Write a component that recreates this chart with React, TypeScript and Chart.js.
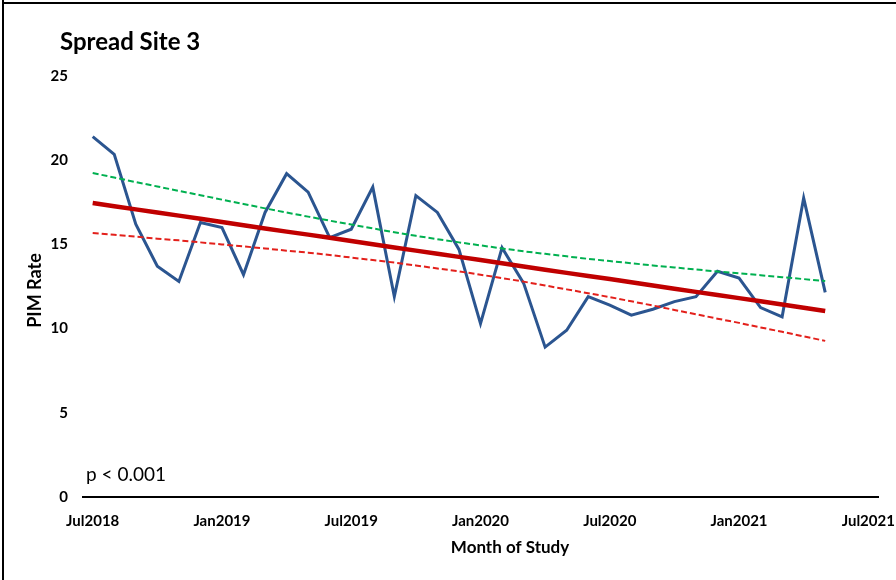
import React, { useEffect, useRef } from "react";
import { Chart, registerables } from "chart.js";

Chart.register(...registerables);

// Monthly PIM rate, Jul 2018 .. May 2021 (index = months since Jul 2018)
const PIM_RATE = [
  21.4, 20.35, 16.2, 13.7, 12.8, 16.3, 16.0, 13.2, 16.9, 19.2, 18.1, 15.4,
  15.9, 18.4, 11.9, 17.9, 16.9, 14.7, 10.3, 14.8, 12.7, 8.9, 9.9, 11.9,
  11.4, 10.8, 11.15, 11.6, 11.9, 13.4, 13.0, 11.25, 10.7, 17.75, 12.15,
];

// Fitted linear trend
const TREND = [
  17.46, 17.27, 17.08, 16.89, 16.71, 16.52, 16.33, 16.14, 15.95, 15.76, 15.58,
  15.39, 15.2, 15.01, 14.82, 14.63, 14.44, 14.26, 14.07, 13.88, 13.69, 13.5,
  13.31, 13.12, 12.94, 12.75, 12.56, 12.37, 12.18, 11.99, 11.81, 11.62, 11.43,
  11.24, 11.05,
];

// Upper confidence limit
const UPPER_CL = [
  19.24, 18.97, 18.7, 18.44, 18.18, 17.92, 17.66, 17.4, 17.14, 16.89, 16.65,
  16.41, 16.18, 15.95, 15.72, 15.51, 15.31, 15.12, 14.94, 14.76, 14.59, 14.44,
  14.29, 14.14, 14.01, 13.88, 13.75, 13.63, 13.51, 13.39, 13.28, 13.17, 13.05,
  12.94, 12.83,
];

// Lower confidence limit
const LOWER_CL = [
  15.68, 15.57, 15.46, 15.34, 15.24, 15.12, 15.0, 14.88, 14.76, 14.63, 14.51,
  14.37, 14.22, 14.07, 13.92, 13.75, 13.57, 13.4, 13.2, 13.0, 12.79, 12.56,
  12.33, 12.1, 11.87, 11.62, 11.37, 11.11, 10.85, 10.59, 10.34, 10.07, 9.81,
  9.54, 9.27,
];

// Axis tick labels, every 6 months from Jul 2018
const X_TICK_LABELS = [
  "Jul2018",
  "Jan2019",
  "Jul2019",
  "Jan2020",
  "Jul2020",
  "Jan2021",
  "Jul2021",
];
const X_TICK_STEP = 6;
const Y_TICKS = [0, 5, 10, 15, 20, 25];

const TITLE = "Spread Site 3";
const Y_TITLE = "PIM Rate";
const X_TITLE = "Month of Study";
const P_VALUE = "p < 0.001";

const FONT = "Lato, 'Open Sans', 'DejaVu Sans', sans-serif";

const toPoints = (values: number[]) => values.map((y, x) => ({ x, y }));

const annotations = {
  id: "annotations",
  beforeDraw(chart: any) {
    const ctx = chart.ctx as CanvasRenderingContext2D;
    ctx.save();
    ctx.fillStyle = "#ffffff";
    ctx.fillRect(0, 0, chart.width, chart.height);
    ctx.fillStyle = "#000000";
    // frame edges
    ctx.fillRect(2, 2, chart.width - 2, 2);
    ctx.fillRect(2, 0, 2, chart.height);
    ctx.restore();
  },
  afterDraw(chart: any) {
    const ctx = chart.ctx as CanvasRenderingContext2D;
    const area = chart.chartArea;
    ctx.save();
    ctx.fillStyle = "#000000";

    ctx.font = `bold 24px ${FONT}`;
    ctx.textAlign = "left";
    ctx.textBaseline = "alphabetic";
    ctx.fillText(TITLE, 60, 50);

    ctx.font = `19px ${FONT}`;
    ctx.fillText(P_VALUE, 86, 481);

    ctx.font = `bold 17px ${FONT}`;
    ctx.textAlign = "center";
    ctx.textBaseline = "middle";
    ctx.fillText(X_TITLE, 510, 548);

    ctx.translate(35, (area.top + area.bottom) / 2 + 4);
    ctx.rotate(-Math.PI / 2);
    ctx.font = `bold 18px ${FONT}`;
    ctx.fillText(Y_TITLE, 0, 0);
    ctx.restore();
  },
};

export default function App() {
  const canvasRef = useRef<HTMLCanvasElement | null>(null);

  useEffect(() => {
    const canvas = canvasRef.current;
    if (!canvas) return;
    const chart = new Chart(canvas, {
      type: "line",
      data: {
        datasets: [
          {
            label: "Lower CL",
            data: toPoints(LOWER_CL),
            borderColor: "#e3201b",
            borderWidth: 2,
            borderDash: [6, 3],
            pointRadius: 0,
            tension: 0,
            order: 1,
          },
          {
            label: "Upper CL",
            data: toPoints(UPPER_CL),
            borderColor: "#00b050",
            borderWidth: 2,
            borderDash: [6, 3],
            pointRadius: 0,
            tension: 0,
            order: 2,
          },
          {
            label: "Trend",
            data: toPoints(TREND),
            borderColor: "#c00000",
            borderWidth: 4.5,
            pointRadius: 0,
            tension: 0,
            order: 3,
          },
          {
            label: "PIM Rate",
            data: toPoints(PIM_RATE),
            borderColor: "#2b5590",
            borderWidth: 3,
            pointRadius: 0,
            tension: 0,
            order: 4,
          },
        ],
      },
      options: {
        responsive: false,
        animation: false,
        events: [],
        layout: { padding: { left: 0, top: 76, right: 18, bottom: 23 } },
        plugins: {
          legend: { display: false },
          title: { display: false },
          tooltip: { enabled: false },
        },
        scales: {
          x: {
            type: "linear",
            min: -0.45,
            max: (X_TICK_LABELS.length - 1) * X_TICK_STEP + 0.45,
            afterBuildTicks: (scale: any) => {
              scale.ticks = X_TICK_LABELS.map((_, i) => ({ value: i * X_TICK_STEP }));
            },
            afterFit: (scale: any) => {
              scale.height = 60;
              scale.paddingLeft = 0;
              scale.paddingRight = 0;
            },
            grid: { display: false, drawTicks: false },
            border: { display: true, color: "#000000", width: 2 },
            ticks: {
              padding: 15,
              color: "#000000",
              font: { family: FONT, size: 15, weight: "bold" },
              maxRotation: 0,
              autoSkip: false,
              callback: (value: any) => X_TICK_LABELS[Math.round(Number(value) / X_TICK_STEP)] ?? "",
            },
          },
          y: {
            type: "linear",
            min: Y_TICKS[0],
            max: Y_TICKS[Y_TICKS.length - 1],
            afterBuildTicks: (scale: any) => {
              scale.ticks = Y_TICKS.map((value) => ({ value }));
            },
            afterFit: (scale: any) => {
              scale.width = 83;
              scale.paddingTop = 0;
              scale.paddingBottom = 0;
            },
            grid: { display: false, drawTicks: false },
            border: { display: false },
            ticks: {
              padding: 15,
              color: "#000000",
              font: { family: FONT, size: 15, weight: "bold" },
            },
          },
        },
      },
      plugins: [annotations],
    });
    return () => chart.destroy();
  }, []);

  return (
    <div
      style={{
        position: "fixed",
        left: 0,
        top: 0,
        width: 896,
        height: 580,
        background: "#ffffff",
      }}
    >
      <canvas ref={canvasRef} width={896} height={580} />
    </div>
  );
}
